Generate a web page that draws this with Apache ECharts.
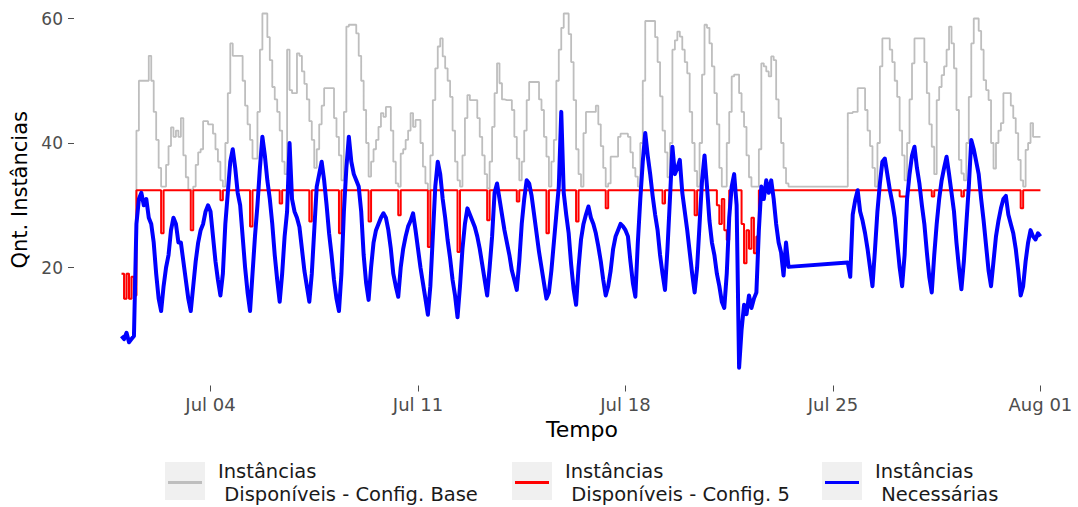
<!DOCTYPE html>
<html>
<head>
<meta charset="utf-8">
<script src="https://cdn.jsdelivr.net/npm/echarts@6/dist/echarts.min.js"></script>
<style>
  html, body { margin: 0; padding: 0; background: #ffffff; }
  #chart { width: 1078px; height: 507px; }
</style>
</head>
<body>
<div id="chart"></div>
<script>
// Series labels and colours
const seriesNames = [
  'Instâncias\n Disponíveis - Config. Base',
  'Instâncias\n Disponíveis - Config. 5',
  'Instâncias\n Necessárias'
];
const seriesColors = ['#bebebe', '#ff0000', '#0000ff'];

// Axis ticks (x in days since 1 Jul 00:00)
const xTickDays = [3, 10, 17, 24, 31];
const xTickLabels = ['Jul 04', 'Jul 11', 'Jul 18', 'Jul 25', 'Aug 01'];
const yTickValues = [20, 40, 60];

// One sample every 2 hours, starting 1 Jul 00:00 (12 samples per day)
const SAMPLE_STEP_DAYS = 2 / 24;

// Instâncias disponíveis - configuração base
const disponiveisBase = [
  19, 15, 19, 15, 18.5, 15.5, 42, 50, 50, 50, 50, 54,            // Jul 01
  50, 45, 40.5, 36, 33, 33, 36.5, 39.5, 42.5, 41, 42, 41,        // Jul 02
  44, 38, 34.5, 32.5, 32.5, 33, 36.5, 38.5, 39, 43.5, 43.5, 43,  // Jul 03
  43, 41.5, 39, 37, 34, 33, 40, 48, 56, 54, 54, 54,              // Jul 04
  54, 50, 46, 43, 40.5, 37.5, 37.5, 45, 55, 60.8, 60.8, 57,      // Jul 05
  53.3, 49, 47, 45, 42, 37, 35, 55, 48.5, 48, 48, 54.4,          // Jul 06
  54, 51.5, 49.5, 47, 43.5, 40.5, 36, 39, 43, 46, 48.8, 48.8,    // Jul 07
  48.8, 48.8, 44, 41, 38, 34, 45, 58.7, 59, 59, 59, 57.6,        // Jul 08
  54, 50, 45.3, 40, 34.6, 37, 39, 40.5, 42.6, 44.8, 44.2, 45.8,  // Jul 09
  45.8, 42, 37, 33.5, 33, 38.3, 39, 40.5, 42, 44.8, 42.6, 43.7,  // Jul 10
  43.7, 40, 36.2, 33.5, 32.4, 38, 46.9, 52, 55.5, 56.8, 53.9, 52,// Jul 11
  50, 47.4, 42, 37, 34, 33, 38, 44, 47.7, 46.9, 46.9, 46.9,      // Jul 12
  44, 41, 38, 35, 32.7, 37, 42.6, 48, 52.8, 49.6, 47, 46.9,      // Jul 13
  46.9, 46.9, 45.3, 41, 37.5, 34, 37, 42, 46.9, 49.8, 49.8, 49.8,// Jul 14
  49.8, 47, 45.3, 41, 37.8, 33, 37, 40.5, 50, 55, 58.5, 60.8,    // Jul 15
  60.8, 57.5, 53, 46.9, 39, 35, 33, 41.6, 45, 45, 45, 45,        // Jul 16
  46, 43, 39.5, 36, 33, 33.5, 37.8, 37.8, 37.8, 41, 41.5, 41.5,  // Jul 17
  41.5, 41, 38.5, 36, 34.6, 33, 40, 50, 59.6, 59.6, 59.6, 59.6,  // Jul 18
  57, 53, 47.5, 42, 38.5, 34.5, 40, 55, 56.5, 57.9, 57.1, 55,    // Jul 19
  53, 51.2, 45, 40, 35.5, 33, 40, 51, 59, 58.5, 56, 52.3,        // Jul 20
  48, 43, 36, 33, 33, 40, 45, 50.7, 51, 51, 48, 45,              // Jul 21
  42.6, 38, 34.5, 33, 33, 33, 39, 52.8, 52.3, 51.5, 50.7, 53.9,  // Jul 22
  53.3, 47, 44, 40, 36, 33.5, 33, 33, 33, 33, 33, 33,            // Jul 23
  33, 33, 33, 33, 33, 33, 33, 33, 33, 33, 33, 33,                // Jul 24
  33, 33, 33, 33, 33, 33, 44.8, 44.8, 45, 45, 48.8, 48.8,        // Jul 25
  48.8, 45.3, 42, 39.5, 36, 33, 40, 52.3, 56.8, 56.8, 56.8, 55,  // Jul 26
  53, 50, 47.4, 42, 38, 34, 40, 47, 52.8, 56.8, 56.8, 56.8,      // Jul 27
  56.8, 53, 48, 43, 39.4, 35, 46.9, 49, 50.9, 52.3, 55, 58.7,    // Jul 28
  56, 52, 45.3, 37.3, 35.1, 34, 40, 47.4, 56, 60, 60, 58,        // Jul 29
  55, 50.1, 48.5, 46.9, 40, 35.9, 40, 42, 43.2, 48, 48, 48,      // Jul 30
  46, 44, 41.6, 37.3, 34, 33, 38.9, 40, 43.2, 41, 41, 41,        // Jul 31
  41                                                             // Aug 01
];

// Instâncias disponíveis - configuração 5
const disponiveisConfig5 = [
  19, 15, 19, 15, 18.5, 15.5, 32.4, 32.4, 32.4, 32.4, 32.4, 32.4,        // Jul 01
  32.4, 32.4, 32.4, 32.4, 25.5, 32.4, 32.4, 32.4, 32.4, 32.4, 32.4, 32.4,// Jul 02
  32.4, 32.4, 32.4, 32.4, 26, 32.4, 32.4, 32.4, 32.4, 32.4, 32.4, 32.4,  // Jul 03
  32.4, 32.4, 32.4, 32.4, 30.8, 32.4, 32.4, 32.4, 32.4, 32.4, 32.4, 32.4,// Jul 04
  32.4, 32.4, 32.4, 32.4, 26.6, 32.4, 32.4, 32.4, 32.4, 32.4, 32.4, 32.4,// Jul 05
  32.4, 32.4, 32.4, 32.4, 30.3, 32.4, 32.4, 32.4, 32.4, 32.4, 32.4, 32.4,// Jul 06
  32.4, 32.4, 32.4, 32.4, 27.4, 32.4, 32.4, 32.4, 32.4, 32.4, 32.4, 32.4,// Jul 07
  32.4, 32.4, 32.4, 32.4, 25.5, 32.4, 32.4, 32.4, 32.4, 32.4, 32.4, 32.4,// Jul 08
  32.4, 32.4, 32.4, 32.4, 27.4, 32.4, 32.4, 32.4, 32.4, 32.4, 32.4, 32.4,// Jul 09
  32.4, 32.4, 32.4, 32.4, 28.4, 32.4, 32.4, 32.4, 32.4, 32.4, 32.4, 32.4,// Jul 10
  32.4, 32.4, 32.4, 32.4, 23.3, 32.4, 32.4, 32.4, 32.4, 32.4, 32.4, 32.4,// Jul 11
  32.4, 32.4, 32.4, 32.4, 22.5, 32.4, 32.4, 32.4, 32.4, 32.4, 32.4, 32.4,// Jul 12
  32.4, 32.4, 32.4, 32.4, 27.6, 32.4, 32.4, 32.4, 32.4, 32.4, 32.4, 32.4,// Jul 13
  32.4, 32.4, 32.4, 32.4, 30.6, 32.4, 32.4, 32.4, 32.4, 32.4, 32.4, 32.4,// Jul 14
  32.4, 32.4, 32.4, 32.4, 25.5, 32.4, 32.4, 32.4, 32.4, 32.4, 32.4, 32.4,// Jul 15
  32.4, 32.4, 32.4, 32.4, 27.4, 32.4, 32.4, 32.4, 32.4, 32.4, 32.4, 32.4,// Jul 16
  32.4, 32.4, 32.4, 32.4, 29.5, 32.4, 32.4, 32.4, 32.4, 32.4, 32.4, 32.4,// Jul 17
  32.4, 32.4, 32.4, 32.4, 32.4, 32.4, 32.4, 32.4, 32.4, 32.4, 32.4, 32.4,// Jul 18
  32.4, 32.4, 32.4, 30.3, 32.4, 32.4, 32.4, 32.4, 32.4, 32.4, 32.4, 32.4,// Jul 19
  32.4, 32.4, 32.4, 32.4, 28.4, 32.4, 32.4, 32.4, 32.4, 32.4, 32.4, 32.4,// Jul 20
  32.4, 30, 27, 31, 26, 24.4, 32.4, 32.4, 32.4, 32.4, 32.4, 27,          // Jul 21
  20.7, 26, 23, 28, 22.3, 25, 32.4, 32.4, 32.4, 32.4, 32.4, 32.4,        // Jul 22
  32.4, 32.4, 32.4, 32.4, 32.4, 32.4, 32.4, 32.4, 32.4, 32.4, 32.4, 32.4,// Jul 23
  32.4, 32.4, 32.4, 32.4, 32.4, 32.4, 32.4, 32.4, 32.4, 32.4, 32.4, 32.4,// Jul 24
  32.4, 32.4, 32.4, 32.4, 32.4, 32.4, 32.4, 32.4, 32.4, 32.4, 32.4, 32.4,// Jul 25
  32.4, 32.4, 32.4, 32.4, 32.4, 32.4, 32.4, 32.4, 32.4, 32.4, 32.4, 32.4,// Jul 26
  32.4, 32.4, 32.4, 31.4, 31.4, 31.4, 32.4, 32.4, 32.4, 32.4, 32.4, 32.4,// Jul 27
  32.4, 32.4, 32.4, 32.4, 31.4, 32.4, 32.4, 32.4, 32.4, 32.4, 32.4, 32.4,// Jul 28
  32.4, 32.4, 32.4, 32.4, 31.4, 32.4, 32.4, 32.4, 32.4, 32.4, 32.4, 32.4,// Jul 29
  32.4, 32.4, 32.4, 32.4, 32.4, 32.4, 32.4, 32.4, 32.4, 32.4, 32.4, 32.4,// Jul 30
  32.4, 32.4, 32.4, 32.4, 29.5, 32.4, 32.4, 32.4, 32.4, 32.4, 32.4, 32.4,// Jul 31
  32.4                                                                   // Aug 01
];

// Instâncias necessárias (null = no measurement; the line bridges the gap)
const necessarias = [
  9, 8.5, 9.5, 8, 8.5, 9, 27, 31, 32, 30, 31, 28,                 // Jul 01
  27, 24, 19, 15, 13, 17, 20, 22, 26, 28, 27, 24,                 // Jul 02
  24, 21, 18, 15, 13, 17, 21, 24, 26, 27, 29, 30,                 // Jul 03
  29, 25, 21, 18, 15.5, 19, 27, 32, 37, 39, 36, 32,               // Jul 04
  30, 25, 20, 16, 13, 19, 25, 30, 36, 41, 38, 34,                 // Jul 05
  31, 27, 22, 18, 14.5, 19, 25, 29, 40, 31, 29, 28,               // Jul 06
  26.5, 23, 19.5, 17, 14.5, 19, 26, 33, 35, 37, 34, 30,           // Jul 07
  25.5, 22, 18, 15, 13, 19, 29, 36, 41, 37, 35, 34,               // Jul 08
  33, 29, 22, 17.5, 14.8, 20, 24, 26, 27, 28, 28.7, 28,           // Jul 09
  26, 23, 19, 17, 15.3, 20, 23, 25, 26.6, 27.5, 28.7, 26,         // Jul 10
  23, 20, 17.5, 15, 12.4, 17, 25, 33, 37, 35, 31, 28,             // Jul 11
  24.4, 21.5, 18, 15.5, 12, 17, 23, 27, 29.5, 28.5, 27.5, 26.5,   // Jul 12
  25, 23, 20.5, 18, 15.5, 20, 25, 32, 33.5, 31, 28.5, 26,         // Jul 13
  24, 22, 19.5, 18, 16.4, 21, 27, 31, 34, 33.5, 31.5, 28.5,       // Jul 14
  25.5, 22.5, 20, 17.5, 15, 16, 19.5, 24, 28.5, 33, 45, 32,       // Jul 15
  28.5, 25.5, 20.5, 16.5, 14, 20, 24.5, 27, 28.5, 29.8, 28, 27,   // Jul 16
  25.5, 23.4, 21, 18, 15.5, 17, 19.5, 23, 25, 26, 27, 26.6,       // Jul 17
  26, 25, 21, 17.5, 15.3, 24, 31, 37, 41.6, 38, 35, 31.5,         // Jul 18
  28.5, 26, 22, 19, 16.4, 23, 31, 39.4, 35, 36, 37.3, 32,         // Jul 19
  29, 26, 22.5, 19, 16, 20, 27, 34, 38, 33, 27.5, 24,             // Jul 20
  22, 19, 17, 14.5, 13.5, 19, 28, 33, 35, 30, 3.9, 10,            // Jul 21
  14, 12.5, 15.5, 13.5, 15, 16, 26, 33, 31, 34, 32, 34,           // Jul 22
  31, 27, 24, 22.4, 18.7, 24, 20.1, null, null, null, null, null, // Jul 23
  null, null, null, null, null, null, null, null, null, null, null, null, // Jul 24
  null, null, null, null, null, null, 20.8, 18.5, 28.5, 30.8, 32.4, 29, // Jul 25
  27.5, 25.5, 23, 20, 17, 22.8, 29, 33.5, 37, 37.5, 35, 32.5,     // Jul 26
  30.5, 28, 24, 20, 17, 22, 31, 35, 38, 39.4, 36, 33.5,           // Jul 27
  30, 27, 22.5, 18.5, 16, 22, 27, 31, 34, 36, 37.8, 35,           // Jul 28
  32, 29, 24, 20, 16.5, 21, 27, 33, 40.5, 39, 37, 35,             // Jul 29
  31, 27.5, 23.5, 19.5, 17, 21, 25, 27.5, 29.5, 31, 31.5, 28.5,   // Jul 30
  27, 25.5, 23, 19.5, 15.5, 17, 21, 24, 26, 25, 24.5, 25.5,       // Jul 31
  25                                                              // Aug 01
];

const FONT = 'DejaVu Sans';

function toPoints(values) {
  return values.map(function (v, i) { return [i * SAMPLE_STEP_DAYS, v]; });
}

// Plot frame in pixels; axis extents are derived from it so that
// 1 day = 29.64 px with 1 Jul 00:00 at x = 121.6, and 1 unit = 6.225 px with 0 at y = 392.
const GRID = { left: 74, right: 0, top: 0, bottom: 121.5 };
const CHART_W = 1078, CHART_H = 507;
const PX_PER_DAY = 29.64, X0_PX = 121.6;
const PX_PER_UNIT = 6.225, Y0_PX = 392;
const xMin = (GRID.left - X0_PX) / PX_PER_DAY;
const xMax = (CHART_W - GRID.right - X0_PX) / PX_PER_DAY;
const yMin = (Y0_PX - (CHART_H - GRID.bottom)) / PX_PER_UNIT;
const yMax = (Y0_PX - GRID.top) / PX_PER_UNIT;

// Legend keys: grey key box with the series line inside
const legendLefts = [168, 515, 825];
const keyBoxes = legendLefts.map(function (l) {
  return {
    type: 'rect',
    z: 0,
    shape: { x: l - 3, y: 462, width: 40, height: 38 },
    style: { fill: '#f0f0f0' }
  };
});

const chart = echarts.init(document.getElementById('chart'), null, { renderer: 'svg' });

chart.setOption({
  animation: false,
  backgroundColor: '#ffffff',
  textStyle: { fontFamily: FONT },
  grid: { left: GRID.left, right: GRID.right, top: GRID.top, bottom: GRID.bottom, containLabel: false },
  graphic: keyBoxes,
  legend: seriesNames.map(function (name, i) {
    return {
      data: [name],
      left: legendLefts[i],
      top: 459.5,
      padding: 0,
      icon: 'rect',
      itemWidth: 34,
      itemHeight: 3,
      selectedMode: false,
      z: 5,
      textStyle: {
        fontFamily: FONT,
        fontSize: 19.5,
        lineHeight: 23,
        color: '#1a1a1a',
        padding: [0, 0, 0, 11]
      }
    };
  }),
  xAxis: {
    type: 'value',
    min: xMin,
    max: xMax,
    name: 'Tempo',
    nameLocation: 'middle',
    nameGap: 30,
    nameTextStyle: { fontFamily: FONT, fontSize: 22, color: '#000000', padding: [0, 0, 0, 12] },
    axisLine: { show: false, onZero: false },
    splitLine: { show: false },
    axisTick: {
      show: true,
      length: 6,
      customValues: xTickDays,
      lineStyle: { color: '#4d4d4d', width: 1 }
    },
    axisLabel: {
      customValues: xTickDays,
      margin: 10,
      fontFamily: FONT,
      fontSize: 18,
      color: '#4d4d4d',
      formatter: function (v) {
        const k = xTickDays.indexOf(Math.round(v));
        return k >= 0 ? xTickLabels[k] : '';
      }
    }
  },
  yAxis: {
    type: 'value',
    min: yMin,
    max: yMax,
    name: 'Qnt. Instâncias',
    nameLocation: 'middle',
    nameRotate: 90,
    nameGap: 43,
    nameTextStyle: { fontFamily: FONT, fontSize: 21, color: '#000000', padding: [0, 0, 0, 6] },
    axisLine: { show: false, onZero: false },
    splitLine: { show: false },
    axisTick: {
      show: true,
      length: 6,
      customValues: yTickValues,
      lineStyle: { color: '#4d4d4d', width: 1 }
    },
    axisLabel: {
      customValues: yTickValues,
      margin: 11,
      fontFamily: FONT,
      fontSize: 17,
      color: '#4d4d4d'
    }
  },
  series: [
    {
      name: seriesNames[0],
      type: 'line',
      step: 'end',
      data: toPoints(disponiveisBase),
      showSymbol: false,
      color: seriesColors[0],
      lineStyle: { width: 1.8, color: seriesColors[0] },
      z: 2
    },
    {
      name: seriesNames[1],
      type: 'line',
      step: 'end',
      data: toPoints(disponiveisConfig5),
      showSymbol: false,
      color: seriesColors[1],
      lineStyle: { width: 2, color: seriesColors[1] },
      z: 3
    },
    {
      name: seriesNames[2],
      type: 'line',
      data: toPoints(necessarias),
      connectNulls: true,
      showSymbol: false,
      color: seriesColors[2],
      lineStyle: { width: 4, color: seriesColors[2], join: 'round' },
      z: 4
    }
  ]
});
</script>
</body>
</html>
